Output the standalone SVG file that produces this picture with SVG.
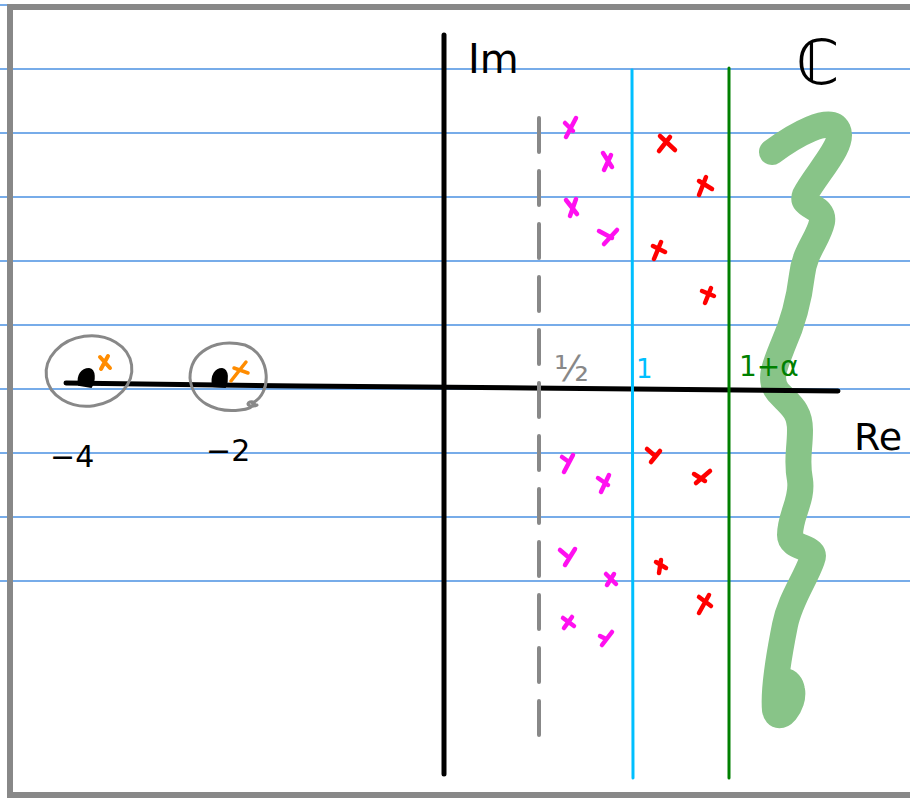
<svg xmlns="http://www.w3.org/2000/svg" width="910" height="798" viewBox="0 0 910 798">
<style>
.rule{stroke:#4a90e2;stroke-width:1.3;fill:none}
.ink{fill:none;stroke-linecap:round;stroke-linejoin:round}
.mag{stroke:#ff10f0;stroke-width:4.5;fill:none;stroke-linecap:round}
.red{stroke:#ff0000;stroke-width:4.5;fill:none;stroke-linecap:round}
.hand{font-family:"DejaVu Sans",sans-serif}
</style>
<rect width="910" height="798" fill="#ffffff"/>
<g id="rules">
<line class="rule" x1="0" y1="5" x2="910" y2="5"/>
<line class="rule" x1="0" y1="69" x2="910" y2="69"/>
<line class="rule" x1="0" y1="133" x2="910" y2="133"/>
<line class="rule" x1="0" y1="197" x2="910" y2="197"/>
<line class="rule" x1="0" y1="261" x2="910" y2="261"/>
<line class="rule" x1="0" y1="325" x2="910" y2="325"/>
<line class="rule" x1="0" y1="389" x2="910" y2="389"/>
<line class="rule" x1="0" y1="453" x2="910" y2="453"/>
<line class="rule" x1="0" y1="517" x2="910" y2="517"/>
<line class="rule" x1="0" y1="581" x2="910" y2="581"/>
</g>
<path id="frame" d="M920,7 H10 V795 H920" fill="none" stroke="#888888" stroke-width="6"/>
<g id="contour">
<path class="ink" stroke="#88c488" stroke-width="26" d="M772,152 C795,135 830,115 838,130 C845,145 815,175 805,195 C800,208 825,205 822,222 C818,240 805,250 802,275 C799,300 792,325 783,345 C775,365 768,380 778,392 C790,405 800,410 800,430 C800,450 796,460 800,480 C803,500 790,515 790,535 C790,550 818,545 812,560 C805,580 790,600 785,625 C778,660 773,690 775,710 C778,725 795,705 792,690 C790,678 780,680 779,686"/>
</g>
<g id="axes">
<path class="ink" stroke="#000" stroke-width="5" d="M444,35 L444,774"/>
<path class="ink" stroke="#000" stroke-width="5" d="M66,383 L300,386 L530,388 L838,391"/>
</g>
<g id="lines">
<path class="ink" stroke="#888888" stroke-width="4" stroke-dasharray="34,19" d="M539,118 L539,743"/>
<path class="ink" stroke="#00bfff" stroke-width="3" d="M632,70 L633,778"/>
<path class="ink" stroke="#008000" stroke-width="3" d="M729,68 L729,778"/>
</g>
<g id="pole-m4">
<ellipse cx="89" cy="371" rx="43" ry="35" fill="none" stroke="#888888" stroke-width="3" transform="rotate(-8 89 371)"/>
<path d="M79,385 C77,375 82,369 89,369 C95,370 95,380 91,387 Z" fill="#000" stroke="#000" stroke-width="2"/>
<path class="ink" stroke="#ff8c00" stroke-width="4" d="M100,357 L110,368 M108,356 L101,369"/>
</g>
<g id="pole-m2">
<path d="M252,403 C272,395 272,355 245,345 C215,338 190,352 190,378 C192,402 215,413 240,410 C258,408 256,400 250,402 C245,404 250,408 257,405" fill="none" stroke="#888888" stroke-width="3" stroke-linecap="round"/>
<path d="M213,386 C211,375 216,369 222,369 C228,370 228,380 225,387 Z" fill="#000" stroke="#000" stroke-width="2"/>
<path class="ink" stroke="#ff8c00" stroke-width="3.5" d="M231,381 L246,362 M234,368 L248,373"/>
</g>
<g id="zeros">
<path class="mag" d="M565,123 L573,131 M576,118 L566,137"/>
<path class="mag" d="M603,153 L612,167 M611,155 L604,170"/>
<path class="mag" d="M566,200 L577,214 M576,199 L570,216"/>
<path class="mag" d="M599,231 L612,238 M617,230 L604,244"/>
<path class="mag" d="M562,457 L569,462 M573,455 L564,472"/>
<path class="mag" d="M598,478 L608,485 M609,475 L601,492"/>
<path class="mag" d="M560,550 L567,556 M575,549 L565,565"/>
<path class="mag" d="M606,574 L616,584 M614,574 L607,585"/>
<path class="mag" d="M563,618 L574,626 M572,617 L564,628"/>
<path class="mag" d="M600,636 L606,639 M612,632 L602,645"/>
<path class="red" d="M660,136 L675,150 M670,137 L659,151"/>
<path class="red" d="M699,181 L712,189 M706,177 L699,195"/>
<path class="red" d="M653,246 L665,252 M661,242 L654,259"/>
<path class="red" d="M702,291 L714,296 M711,288 L705,303"/>
<path class="red" d="M647,449 L654,455 M660,451 L651,462"/>
<path class="red" d="M694,474 L705,481 M710,471 L696,483"/>
<path class="red" d="M656,562 L666,568 M661,560 L659,573"/>
<path class="red" d="M699,597 L711,606 M709,595 L699,613"/>
</g>
<g id="labels">
<text class="hand" x="468" y="73" font-size="40" fill="#000">Im</text>
<text class="hand" x="796" y="84" font-size="62" fill="#000">ℂ</text>
<text class="hand" x="854" y="450" font-size="38" fill="#000">Re</text>
<text class="hand" x="50" y="467" font-size="30" fill="#000">−4</text>
<text class="hand" x="206" y="461" font-size="30" fill="#000">−2</text>
<text class="hand" x="554" y="381" font-size="36" fill="#888888">½</text>
<text class="hand" x="636" y="378" font-size="26" fill="#00bfff">1</text>
<text class="hand" x="739" y="376" font-size="28" fill="#008000">1+α</text>
</g>
</svg>
